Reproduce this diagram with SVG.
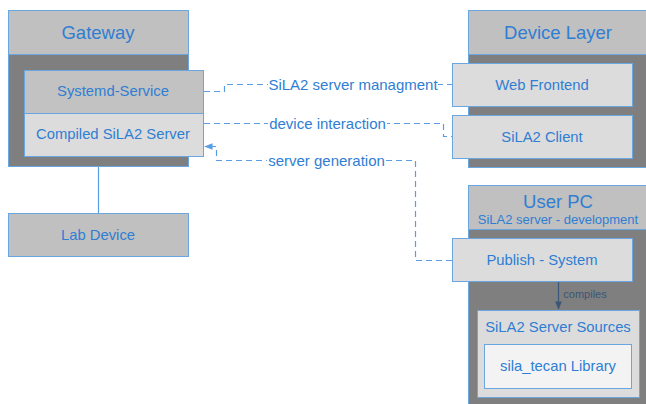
<svg xmlns="http://www.w3.org/2000/svg" width="646" height="404" viewBox="0 0 646 404">
<defs>
<style>
text{font-family:"Liberation Sans",Arial,sans-serif;fill:#2f7ed3;text-anchor:middle;dominant-baseline:central}
.hd{fill:#c0c0c0;stroke:#6aa6e0;stroke-width:1}
.bd{fill:#7f7f7f;stroke:#6aa6e0;stroke-width:1}
.mid{fill:#c2c2c2;stroke:#6aa6e0;stroke-width:1}
.lt{fill:#dcdcdc;stroke:#6aa6e0;stroke-width:1}
.wh{fill:#f3f3f3;stroke:#6aa6e0;stroke-width:1}
.t18{font-size:18.5px}
.t14{font-size:14.8px}
.t12{font-size:13px}
.dash{fill:none;stroke:#5b9de3;stroke-width:1.2;stroke-dasharray:6 4}
.lbl{font-size:15px}
</style>
<marker id="ah" viewBox="0 0 10 10" refX="9" refY="5" markerWidth="7" markerHeight="7" orient="auto"><path d="M0,1 L10,5 L0,9 z" fill="#5b9de3"/></marker>
<marker id="ah2" viewBox="0 0 10 10" refX="9" refY="5" markerWidth="7" markerHeight="7" orient="auto"><path d="M0,1 L10,5 L0,9 z" fill="#3b5678"/></marker>
</defs>
<rect width="646" height="404" fill="#ffffff"/>
<g id="gateway">
<rect class="bd" x="8.5" y="10.5" width="180" height="156"/>
<rect class="hd" x="8.5" y="10.5" width="180" height="44"/>
<text class="t18" x="98" y="32">Gateway</text>
</g>
<g id="systemd-service">
<rect class="mid" x="24.5" y="70.5" width="179" height="43"/>
<text class="t14" x="113" y="91">Systemd-Service</text>
</g>
<g id="compiled-server">
<rect class="lt" x="24.5" y="113.5" width="179" height="43"/>
<text class="t14" x="113" y="134">Compiled SiLA2 Server</text>
</g>
<g id="lab-device">
<rect class="hd" x="8.5" y="213.5" width="180" height="43"/>
<text class="t14" x="98" y="235">Lab Device</text>
</g>
<g id="device-layer">
<rect class="bd" x="468.5" y="10.5" width="180" height="157"/>
<rect class="hd" x="468.5" y="10.5" width="180" height="44"/>
<text class="t18" x="558" y="32">Device Layer</text>
</g>
<g id="web-frontend">
<rect class="lt" x="452.5" y="63.5" width="180" height="43"/>
<text class="t14" x="542" y="85">Web Frontend</text>
</g>
<g id="sila2-client">
<rect class="lt" x="452.5" y="115.5" width="180" height="43"/>
<text class="t14" x="542" y="137">SiLA2 Client</text>
</g>
<g id="user-pc">
<rect class="bd" x="468.5" y="185.5" width="180" height="222"/>
<rect class="hd" x="468.5" y="185.5" width="180" height="44"/>
<text class="t18" x="558" y="201">User PC</text>
<text class="t12" x="558" y="219">SiLA2 server - development</text>
</g>
<g id="publish-system">
<rect class="lt" x="452.5" y="238.5" width="180" height="43"/>
<text class="t14" x="542" y="260">Publish - System</text>
</g>
<g id="server-sources">
<rect class="lt" x="477.5" y="310.5" width="162" height="87"/>
<text class="t14" x="558" y="327">SiLA2 Server Sources</text>
</g>
<g id="sila-tecan">
<rect class="wh" x="484.5" y="344.5" width="147" height="44"/>
<text class="t14" x="558" y="366">sila_tecan Library</text>
</g>
<g id="connectors">
<line x1="98.5" y1="167" x2="98.5" y2="213" stroke="#5b9de3" stroke-width="1.2"/>
<path class="dash" d="M204,91.5 H224.5 V84.5 H452"/>
<path class="dash" d="M204,123.5 H443.5 V136.5 H452"/>
<path class="dash" d="M452,260.5 H415.5 V160.5 H216.5 V146.5 H205" marker-end="url(#ah)"/>
<rect x="268" y="75" width="170" height="18" fill="#ffffff"/>
<text class="lbl" x="353" y="84">SiLA2 server managment</text>
<rect x="268" y="114" width="119" height="18" fill="#ffffff"/>
<text class="lbl" x="327.5" y="123">device interaction</text>
<rect x="267" y="151" width="119" height="18" fill="#ffffff"/>
<text class="lbl" x="326.5" y="160">server generation</text>
<line x1="558.5" y1="282" x2="558.5" y2="309" stroke="#3b5678" stroke-width="1.2" marker-end="url(#ah2)"/>
<text x="585" y="294" style="font-size:11px;fill:#3b5678">compiles</text>
</g>
</svg>
